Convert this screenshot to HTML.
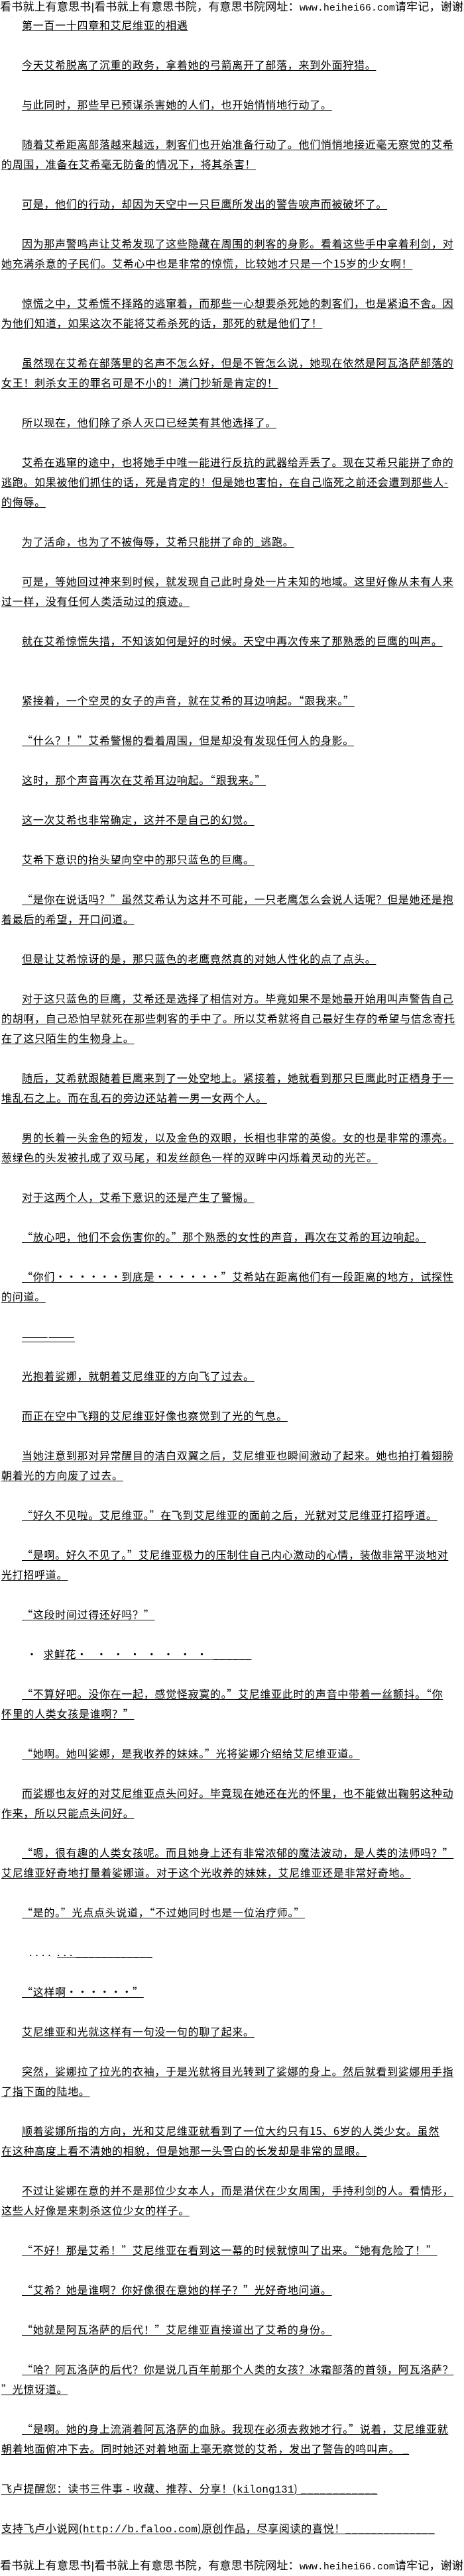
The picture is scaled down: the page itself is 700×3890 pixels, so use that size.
<!DOCTYPE html>
<html><head><meta charset="utf-8">
<style>
html,body{margin:0;padding:0;background:#fff;}
body{width:700px;height:3890px;position:relative;overflow:hidden;color:#000;
font-family:"Liberation Sans","Noto Sans CJK SC",sans-serif;}
.hd{position:absolute;left:0;width:700px;white-space:nowrap;overflow:hidden;font-size:17px;line-height:22px;letter-spacing:0.2px;}
.hd .m{font-family:"Liberation Mono","Noto Sans CJK SC",monospace;font-size:15px;letter-spacing:0;}
#c{position:absolute;left:0;top:22px;width:700px;font-family:"Noto Sans CJK SC","Liberation Sans",sans-serif;}
#c div{height:30px;line-height:30px;font-size:16px;letter-spacing:0.7px;white-space:nowrap;text-decoration:underline;text-underline-offset:2px;overflow:hidden;}
#c div.i{padding-left:33px;}
#c div.l{padding-left:2px;}
#c div.b{text-decoration:none;}
#c div.n{text-decoration:none;}
#c .mono{font-family:"Liberation Mono",monospace;letter-spacing:0;}
</style></head><body>
<div class="hd" style="top:0">看书就上有意思书|看书就上有意思书院，有意思书院网址：<span class="m">www.heihei66.com</span>请牢记，谢谢</div>
<div class="hd" style="top:20px;color:#bbb;font-size:10px;line-height:12px">&nbsp;·&nbsp;&nbsp;&nbsp;·&nbsp;&nbsp;&nbsp;&nbsp;·&nbsp;&nbsp;&nbsp;·&nbsp;&nbsp;&nbsp;&nbsp;&nbsp;·&nbsp;&nbsp;&nbsp;&nbsp;&nbsp;&nbsp;·&nbsp;&nbsp;&nbsp;&nbsp;·&nbsp;&nbsp;&nbsp;&nbsp;&nbsp;&nbsp;·&nbsp;&nbsp;&nbsp;&nbsp;&nbsp;·&nbsp;&nbsp;&nbsp;&nbsp;&nbsp;&nbsp;&nbsp;&nbsp;·&nbsp;&nbsp;&nbsp;&nbsp;·</div>
<div id="c">
<div class="i">第一百一十四章和艾尼维亚的相遇</div><div class="b"></div>
<div class="i">今天艾希脱离了沉重的政务，拿着她的弓箭离开了部落，来到外面狩猎。</div><div class="b"></div>
<div class="i">与此同时，那些早已预谋杀害她的人们，也开始悄悄地行动了。</div><div class="b"></div>
<div class="i">随着艾希距离部落越来越远，刺客们也开始准备行动了。他们悄悄地接近毫无察觉的艾希</div>
<div class="l">的周围，准备在艾希毫无防备的情况下，将其杀害！</div><div class="b"></div>
<div class="i">可是，他们的行动，却因为天空中一只巨鹰所发出的警告唳声而被破坏了。</div><div class="b"></div>
<div class="i">因为那声警鸣声让艾希发现了这些隐藏在周围的刺客的身影。看着这些手中拿着利剑，对</div>
<div class="l">她充满杀意的子民们。艾希心中也是非常的惊慌，比较她才只是一个15岁的少女啊！</div><div class="b"></div>
<div class="i">惊慌之中，艾希慌不择路的逃窜着，而那些一心想要杀死她的刺客们，也是紧追不舍。因</div>
<div class="l">为他们知道，如果这次不能将艾希杀死的话，那死的就是他们了！</div><div class="b"></div>
<div class="i">虽然现在艾希在部落里的名声不怎么好，但是不管怎么说，她现在依然是阿瓦洛萨部落的</div>
<div class="l">女王！刺杀女王的罪名可是不小的！满门抄斩是肯定的！</div><div class="b"></div>
<div class="i">所以现在，他们除了杀人灭口已经美有其他选择了。</div><div class="b"></div>
<div class="i">艾希在逃窜的途中，也将她手中唯一能进行反抗的武器给弄丢了。现在艾希只能拼了命的</div>
<div class="l">逃跑。如果被他们抓住的话，死是肯定的！但是她也害怕，在自己临死之前还会遭到那些人-</div>
<div class="l">的侮辱。</div><div class="b"></div>
<div class="i">为了活命，也为了不被侮辱，艾希只能拼了命的_逃跑。</div><div class="b"></div>
<div class="i">可是，等她回过神来到时候，就发现自己此时身处一片未知的地域。这里好像从未有人来</div>
<div class="l">过一样，没有任何人类活动过的痕迹。</div><div class="b"></div>
<div class="i">就在艾希惊慌失措，不知该如何是好的时候。天空中再次传来了那熟悉的巨鹰的叫声。</div><div class="b"></div><div class="b"></div>
<div class="i">紧接着，一个空灵的女子的声音，就在艾希的耳边响起。“跟我来。”</div><div class="b"></div>
<div class="i">“什么？！”艾希警惕的看着周围，但是却没有发现任何人的身影。</div><div class="b"></div>
<div class="i">这时，那个声音再次在艾希耳边响起。“跟我来。”</div><div class="b"></div>
<div class="i">这一次艾希也非常确定，这并不是自己的幻觉。</div><div class="b"></div>
<div class="i">艾希下意识的抬头望向空中的那只蓝色的巨鹰。</div><div class="b"></div>
<div class="i">“是你在说话吗？”虽然艾希认为这并不可能，一只老鹰怎么会说人话呢？但是她还是抱</div>
<div class="l">着最后的希望，开口问道。</div><div class="b"></div>
<div class="i">但是让艾希惊讶的是，那只蓝色的老鹰竟然真的对她人性化的点了点头。</div><div class="b"></div>
<div class="i">对于这只蓝色的巨鹰，艾希还是选择了相信对方。毕竟如果不是她最开始用叫声警告自己</div>
<div class="l">的胡啊，自己恐怕早就死在那些刺客的手中了。所以艾希就将自己最好生存的希望与信念寄托</div>
<div class="l">在了这只陌生的生物身上。</div><div class="b"></div>
<div class="i">随后，艾希就跟随着巨鹰来到了一处空地上。紧接着，她就看到那只巨鹰此时正栖身于一</div>
<div class="l">堆乱石之上。而在乱石的旁边还站着一男一女两个人。</div><div class="b"></div>
<div class="i">男的长着一头金色的短发，以及金色的双眼，长相也非常的英俊。女的也是非常的漂亮。</div>
<div class="l">葱绿色的头发被扎成了双马尾，和发丝颜色一样的双眸中闪烁着灵动的光芒。</div><div class="b"></div>
<div class="i">对于这两个人，艾希下意识的还是产生了警惕。</div><div class="b"></div>
<div class="i">“放心吧，他们不会伤害你的。”那个熟悉的女性的声音，再次在艾希的耳边响起。</div><div class="b"></div>
<div class="i">“你们······到底是······”艾希站在距离他们有一段距离的地方，试探性</div>
<div class="l">的问道。</div><div class="b"></div>
<div class="i">——————</div><div class="b"></div>
<div class="i">光抱着娑娜，就朝着艾尼维亚的方向飞了过去。</div><div class="b"></div>
<div class="i">而正在空中飞翔的艾尼维亚好像也察觉到了光的气息。</div><div class="b"></div>
<div class="i">当她注意到那对异常醒目的洁白双翼之后，艾尼维亚也瞬间激动了起来。她也拍打着翅膀</div>
<div class="l">朝着光的方向废了过去。</div><div class="b"></div>
<div class="i">“好久不见啦。艾尼维亚。”在飞到艾尼维亚的面前之后，光就对艾尼维亚打招呼道。</div><div class="b"></div>
<div class="i">“是啊。好久不见了。”艾尼维亚极力的压制住自己内心激动的心情，装做非常平淡地对</div>
<div class="l">光打招呼道。</div><div class="b"></div>
<div class="i">“这段时间过得还好吗？”</div><div class="b"></div>
<div class="n" style="padding-left:40px">·&nbsp;&nbsp;<u>求鲜花·&nbsp;&nbsp;&nbsp;·&nbsp;&nbsp;·&nbsp;&nbsp;·&nbsp;&nbsp;·&nbsp;&nbsp;·&nbsp;&nbsp;·&nbsp;&nbsp;·&nbsp;&nbsp;______</u></div><div class="b"></div>
<div class="i">“不算好吧。没你在一起，感觉怪寂寞的。”艾尼维亚此时的声音中带着一丝颤抖。“你</div>
<div class="l">怀里的人类女孩是谁啊？”</div><div class="b"></div>
<div class="i">“她啊。她叫娑娜，是我收养的妹妹。”光将娑娜介绍给艾尼维亚道。</div><div class="b"></div>
<div class="i">而娑娜也友好的对艾尼维亚点头问好。毕竟现在她还在光的怀里，也不能做出鞠躬这种动</div>
<div class="l">作来，所以只能点头问好。</div><div class="b"></div>
<div class="i">“嗯，很有趣的人类女孩呢。而且她身上还有非常浓郁的魔法波动，是人类的法师吗？”</div>
<div class="l">艾尼维亚好奇地打量着娑娜道。对于这个光收养的妹妹，艾尼维亚还是非常好奇地。</div><div class="b"></div>
<div class="i">“是的。”光点点头说道，“不过她同时也是一位治疗师。”</div><div class="b"></div>
<div class="n" style="padding-left:44px">.&nbsp;.&nbsp;.&nbsp;.&nbsp;&nbsp;<u>.&nbsp;.&nbsp;.&nbsp;____________</u></div><div class="b"></div>
<div class="i">“这样啊······”</div><div class="b"></div>
<div class="i">艾尼维亚和光就这样有一句没一句的聊了起来。</div><div class="b"></div>
<div class="i">突然，娑娜拉了拉光的衣袖，于是光就将目光转到了娑娜的身上。然后就看到娑娜用手指</div>
<div class="l">了指下面的陆地。</div><div class="b"></div>
<div class="i">顺着娑娜所指的方向，光和艾尼维亚就看到了一位大约只有15、6岁的人类少女。虽然</div>
<div class="l">在这种高度上看不清她的相貌，但是她那一头雪白的长发却是非常的显眼。</div><div class="b"></div>
<div class="i">不过让娑娜在意的并不是那位少女本人，而是潜伏在少女周围，手持利剑的人。看情形，</div>
<div class="l">这些人好像是来刺杀这位少女的样子。</div><div class="b"></div>
<div class="i">“不好！那是艾希！”艾尼维亚在看到这一幕的时候就惊叫了出来。“她有危险了！”</div><div class="b"></div>
<div class="i">“艾希？她是谁啊？你好像很在意她的样子？”光好奇地问道。</div><div class="b"></div>
<div class="i">“她就是阿瓦洛萨的后代！”艾尼维亚直接道出了艾希的身份。</div><div class="b"></div>
<div class="i">“哈？阿瓦洛萨的后代？你是说几百年前那个人类的女孩？冰霜部落的首领，阿瓦洛萨？</div>
<div class="l">”光惊讶道。</div><div class="b"></div>
<div class="i">“是啊。她的身上流淌着阿瓦洛萨的血脉。我现在必须去救她才行。”说着，艾尼维亚就</div>
<div class="l">朝着地面俯冲下去。同时她还对着地面上毫无察觉的艾希，发出了警告的鸣叫声。&nbsp;_</div><div class="b"></div>
<div class="l">飞卢提醒您：读书三件事 - 收藏、推荐、分享！(<span class="mono">kilong131</span>)&nbsp;____________</div><div class="b"></div>
<div class="l">支持飞卢小说网(<span class="mono">http://b.faloo.com</span>)原创作品，尽享阅读的喜悦！______________</div>
</div>
<div class="hd" style="top:3864px">看书就上有意思书|看书就上有意思书院，有意思书院网址：<span class="m">www.heihei66.com</span>请牢记，谢谢</div>
</body></html>
